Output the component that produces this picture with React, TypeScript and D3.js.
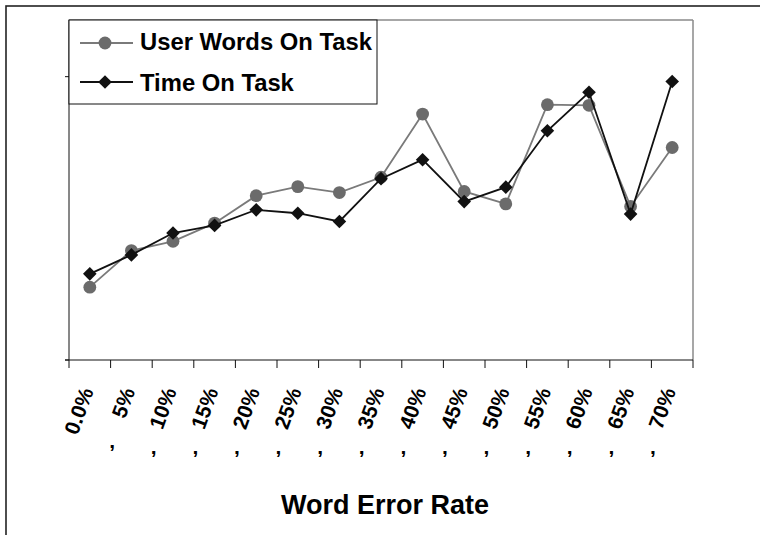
import React from "react";
import * as d3 from "d3";

const categories = ["0.0%", "5%", "10%", "15%", "20%", "25%", "30%", "35%", "40%", "45%", "50%", "55%", "60%", "65%", "70%"];
const userWords = [0.257, 0.386, 0.419, 0.483, 0.58, 0.612, 0.591, 0.645, 0.868, 0.595, 0.551, 0.901, 0.899, 0.542, 0.75];
const timeOnTask = [0.304, 0.371, 0.448, 0.475, 0.53, 0.518, 0.489, 0.64, 0.707, 0.559, 0.61, 0.809, 0.945, 0.515, 0.983];
const yTicks = [0, 1];
const seriesNames = ["User Words On Task", "Time On Task"];
const xTitle = "Word Error Rate";

const W = 760, H = 535;
const left = 69, right = 693, top = 20, bottom = 360;
const FONT = "'Liberation Sans', Arial, sans-serif";

export default function App() {
  const x = d3.scaleBand<string>().domain(categories).range([left, right]).padding(0);
  const y = d3.scaleLinear().domain([0, 1.2]).range([bottom, top]);
  const cx = (c: string) => (x(c) as number) + x.bandwidth() / 2;

  const line = d3.line<number>().x((_, i) => cx(categories[i])).y((v) => y(v));
  const diamond = (px: number, py: number, r: number) =>
    `M${px},${py - r}L${px + r},${py}L${px},${py + r}L${px - r},${py}Z`;

  const tickXs = [...categories.map((c) => x(c) as number), right];

  return (
    <svg width={W} height={H} style={{ position: "absolute", left: 0, top: 0, background: "#fff" }} fontFamily={FONT}>
      <rect x={6} y={6} width={W + 20} height={H + 20} fill="#fff" stroke="#222" strokeWidth={1.6} />
      {/* plot frame */}
      <line x1={left} y1={top} x2={right} y2={top} stroke="#8a8a8a" strokeWidth={1.5} />
      <line x1={right} y1={top} x2={right} y2={bottom} stroke="#8a8a8a" strokeWidth={1.5} />
      {/* y axis */}
      <line x1={left} y1={top} x2={left} y2={bottom} stroke="#111" strokeWidth={1} />
      {yTicks.map((t) => (
        <line key={"yt" + t} x1={left - 4} x2={left} y1={y(t)} y2={y(t)} stroke="#111" strokeWidth={1} />
      ))}
      {/* x axis */}
      <line x1={left - 4} y1={bottom} x2={right} y2={bottom} stroke="#111" strokeWidth={1} />
      {tickXs.map((tx, i) => (
        <line key={"xt" + i} x1={tx} x2={tx} y1={bottom} y2={bottom + 8} stroke="#111" strokeWidth={1} />
      ))}
      {/* tick labels */}
      {categories.map((c) => (
        <text
          key={"lab" + c}
          transform={`translate(${cx(c) + 4},${391}) rotate(-70)`}
          textAnchor="end"
          fontSize={21}
          fontWeight="bold"
          fill="#000"
        >
          {c}
        </text>
      ))}
      {categories.slice(1).map((c, i) => (
        <text
          key={"com" + c}
          x={(x(c) as number) + 1.5}
          y={i === 0 ? 448 : 454}
          textAnchor="middle"
          fontSize={21}
          fontWeight="bold"
          fill="#000"
        >
          ,
        </text>
      ))}
      <text x={385} y={514} textAnchor="middle" fontSize={27} fontWeight="bold" fill="#000">
        {xTitle}
      </text>
      {/* series */}
      <path d={line(userWords) || ""} fill="none" stroke="#7a7a7a" strokeWidth={1.8} />
      {userWords.map((v, i) => (
        <circle key={"uw" + i} cx={cx(categories[i])} cy={y(v)} r={6.4} fill="#6b6b6b" />
      ))}
      <path d={line(timeOnTask) || ""} fill="none" stroke="#111" strokeWidth={1.8} />
      {timeOnTask.map((v, i) => (
        <path key={"tt" + i} d={diamond(cx(categories[i]), y(v), 6.8)} fill="#111" />
      ))}
      {/* legend */}
      <rect x={left} y={top} width={308} height={84} fill="#fff" stroke="#111" strokeWidth={1} />
      <line x1={80} x2={133} y1={43} y2={43} stroke="#7a7a7a" strokeWidth={1.8} />
      <circle cx={105} cy={43} r={6.4} fill="#6b6b6b" />
      <text x={140} y={49.5} fontSize={23.8} fontWeight="bold" fill="#000">{seriesNames[0]}</text>
      <line x1={80} x2={133} y1={82} y2={82} stroke="#111" strokeWidth={1.8} />
      <path d={diamond(105, 82, 6.8)} fill="#111" />
      <text x={140} y={91} fontSize={23.8} fontWeight="bold" fill="#000">{seriesNames[1]}</text>
    </svg>
  );
}
